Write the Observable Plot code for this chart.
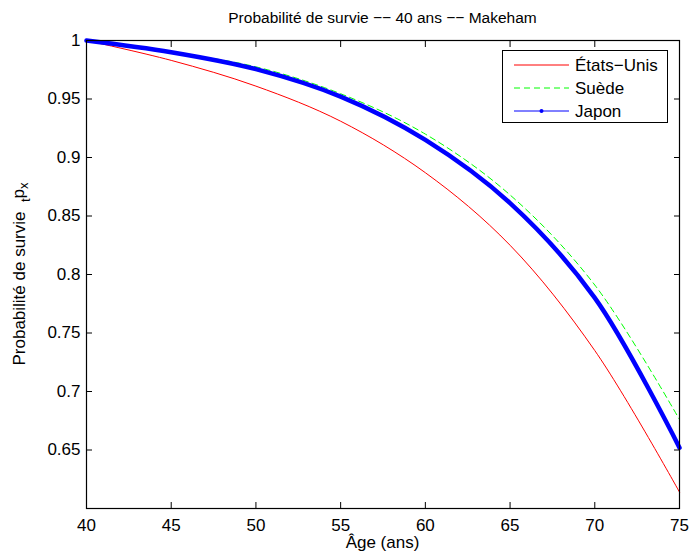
<!DOCTYPE html>
<html>
<head>
<meta charset="utf-8">
<script src="https://cdn.jsdelivr.net/npm/d3@7"></script>
<script src="https://cdn.jsdelivr.net/npm/@observablehq/plot@0.6"></script>
<style>
  body { margin: 0; background: #fff; font-family: "Liberation Sans", Arial, Helvetica, sans-serif; }
  #wrap { position: relative; width: 689px; height: 558px; overflow: hidden; }
  #title { height: 30px; width: 689px; position: relative; }
  #title span { position: absolute; left: 86px; width: 593px; top: 8px; text-align: center; font-size: 15.5px; line-height: 20px; color: #000; }
  #legend { position: absolute; left: 502px; top: 50px; width: 164px; height: 71px; border: 1px solid #000; background: #fff; }
</style>
</head>
<body>
<div id="wrap">
  <div id="title"><span>Probabilité de survie −− 40 ans −− Makeham</span></div>
  <div id="chart"></div>
  <div id="legend"></div>
</div>
<script>
// ---- data ----
const ages = [40, 45, 50, 55, 60, 65, 70, 75];
const etatsUnis = [1.000, 0.983, 0.961, 0.931, 0.887, 0.825, 0.735, 0.614];
const suede     = [1.000, 0.990, 0.9775, 0.9545, 0.920, 0.868, 0.791, 0.676];
const japon     = [1.000, 0.990, 0.9755, 0.952, 0.915, 0.861, 0.780, 0.652];
const seriesNames = ["États−Unis", "Suède", "Japon"];
const xTicks = [40, 45, 50, 55, 60, 65, 70, 75];
const yTicks = [0.65, 0.7, 0.75, 0.8, 0.85, 0.9, 0.95, 1];
const titleText = "Probabilité de survie −− 40 ans −− Makeham";
const xLabel = "Âge (ans)";
const yLabel = "Probabilité de survie";

const seriesValues = [etatsUnis, suede, japon];
const rows = seriesNames.flatMap((name, s) => ages.map((age, i) => ({ name, age, p: seriesValues[s][i] })));
const styles = {
  "États−Unis": { stroke: "#ff0000", strokeWidth: 1, dash: null },
  "Suède": { stroke: "#00ff00", strokeWidth: 1, dash: "6,4" },
  "Japon": { stroke: "#0000ff", strokeWidth: 4.5, dash: null }
};

const fontFamily = "Liberation Sans, Arial, Helvetica, sans-serif";

const plot = Plot.plot({
  width: 689,
  height: 528,
  marginLeft: 86,
  marginRight: 10,
  marginTop: 10,
  marginBottom: 50,
  style: { fontFamily, fontSize: "17px", color: "#000", background: "#fff", overflow: "visible" },
  x: { domain: [40, 75], label: null },
  y: { domain: [0.6, 1], label: null },
  marks: [
    ...seriesNames.map(name => Plot.line(rows.filter(d => d.name === name), {
      x: "age", y: "p",
      stroke: styles[name].stroke,
      strokeWidth: styles[name].strokeWidth,
      strokeDasharray: styles[name].dash,
      curve: "catmull-rom"
    })),
    Plot.frame({ stroke: "#000", strokeWidth: 1.2 }),
    Plot.axisX(xTicks, { anchor: "bottom", tickSize: 0, tickPadding: 10, label: null, tickFormat: d => String(d) }),
    Plot.axisX(xTicks, { anchor: "bottom", tickSize: -6, fill: "none", label: null }),
    Plot.axisX(xTicks, { anchor: "top", tickSize: -6, fill: "none", label: null }),
    Plot.axisY(yTicks, { anchor: "left", tickSize: 0, tickPadding: 6, label: null, tickFormat: d => String(d) }),
    Plot.axisY(yTicks, { anchor: "left", tickSize: -6, fill: "none", label: null }),
    Plot.axisY(yTicks, { anchor: "right", tickSize: -6, fill: "none", label: null })
  ]
});
document.getElementById("chart").appendChild(plot);

const svg = d3.select(plot);
// x label
svg.append("text")
  .attr("x", (86 + 679) / 2)
  .attr("y", 518)
  .attr("text-anchor", "middle")
  .attr("font-size", 17)
  .attr("fill", "#000")
  .text(xLabel);
// y label with subscripts
const yl = svg.append("text")
  .attr("transform", `translate(25,${(10 + 478) / 2}) rotate(-90)`)
  .attr("text-anchor", "middle")
  .attr("font-size", 17)
  .attr("fill", "#000");
yl.append("tspan").text(yLabel + "\u00a0\u00a0");
yl.append("tspan").attr("font-size", 13).attr("dy", "0.35em").text("t");
yl.append("tspan").attr("dy", "-0.35em").text("p");
yl.append("tspan").attr("font-size", 13).attr("dy", "0.35em").text("x");

// legend
const lg = d3.select("#legend").append("svg")
  .attr("width", 164).attr("height", 71)
  .style("display", "block")
  .style("font-family", fontFamily);
seriesNames.forEach((name, i) => {
  const cy = 14 + i * 23;
  lg.append("line")
    .attr("x1", 11).attr("x2", 66).attr("y1", cy).attr("y2", cy)
    .attr("stroke", styles[name].stroke)
    .attr("stroke-width", 1)
    .attr("stroke-dasharray", styles[name].dash);
  if (name === "Japon") {
    lg.append("circle").attr("cx", 38.5).attr("cy", cy).attr("r", 2).attr("fill", styles[name].stroke);
  }
  lg.append("text")
    .attr("x", 72).attr("y", cy).attr("dy", "0.35em")
    .attr("font-size", 17).attr("fill", "#000")
    .text(name);
});
</script>
</body>
</html>
